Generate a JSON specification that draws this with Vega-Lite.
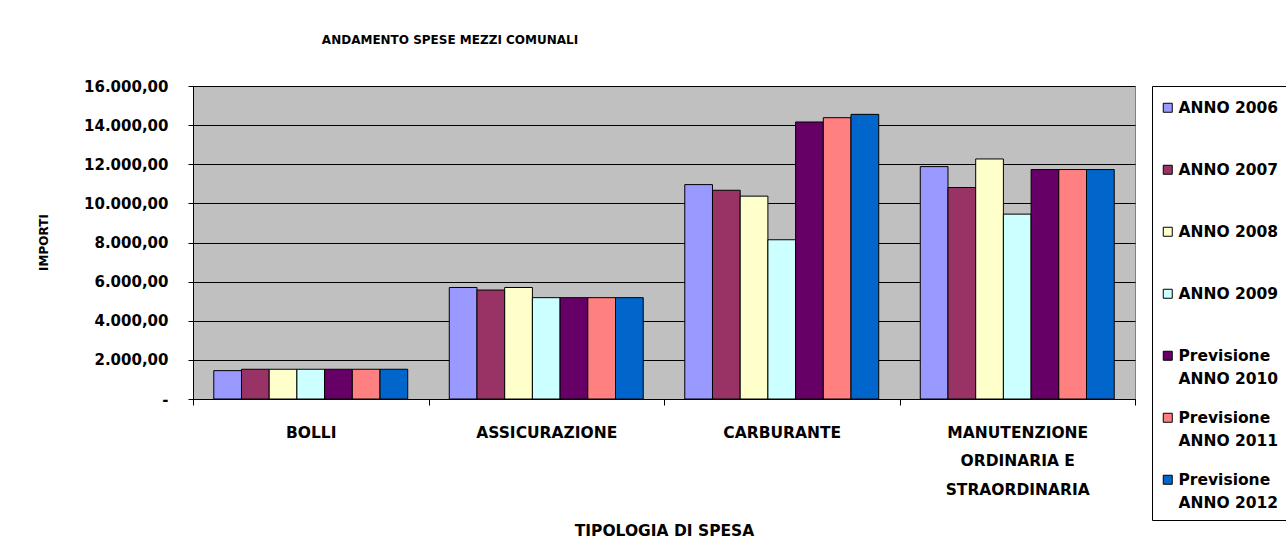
{
  "$schema": "https://vega.github.io/schema/vega-lite/v6.json",
  "width": 942,
  "height": 313,
  "autosize": "none",
  "padding": {"left": 193, "top": 86, "right": 151, "bottom": 154},
  "background": "white",
  "title": {
    "text": "ANDAMENTO SPESE MEZZI COMUNALI",
    "fontSize": 12,
    "font": "DejaVu Sans",
    "fontWeight": "bold",
    "color": "black",
    "anchor": "middle",
    "dx": -214,
    "offset": 32
  },
  "config": {
    "font": "DejaVu Sans",
    "view": {"fill": "#C0C0C0", "stroke": "#808080", "strokeWidth": 1}
  },
  "data": {
    "values": [
      {"tipologia": "BOLLI", "serie": "ANNO 2006", "importo": 1450},
      {"tipologia": "BOLLI", "serie": "ANNO 2007", "importo": 1520},
      {"tipologia": "BOLLI", "serie": "ANNO 2008", "importo": 1520},
      {"tipologia": "BOLLI", "serie": "ANNO 2009", "importo": 1520},
      {"tipologia": "BOLLI", "serie": "Previsione ANNO 2010", "importo": 1520},
      {"tipologia": "BOLLI", "serie": "Previsione ANNO 2011", "importo": 1520},
      {"tipologia": "BOLLI", "serie": "Previsione ANNO 2012", "importo": 1520},
      {"tipologia": "ASSICURAZIONE", "serie": "ANNO 2006", "importo": 5700},
      {"tipologia": "ASSICURAZIONE", "serie": "ANNO 2007", "importo": 5570},
      {"tipologia": "ASSICURAZIONE", "serie": "ANNO 2008", "importo": 5700},
      {"tipologia": "ASSICURAZIONE", "serie": "ANNO 2009", "importo": 5180},
      {"tipologia": "ASSICURAZIONE", "serie": "Previsione ANNO 2010", "importo": 5180},
      {"tipologia": "ASSICURAZIONE", "serie": "Previsione ANNO 2011", "importo": 5180},
      {"tipologia": "ASSICURAZIONE", "serie": "Previsione ANNO 2012", "importo": 5180},
      {"tipologia": "CARBURANTE", "serie": "ANNO 2006", "importo": 10960},
      {"tipologia": "CARBURANTE", "serie": "ANNO 2007", "importo": 10670},
      {"tipologia": "CARBURANTE", "serie": "ANNO 2008", "importo": 10370},
      {"tipologia": "CARBURANTE", "serie": "ANNO 2009", "importo": 8140},
      {"tipologia": "CARBURANTE", "serie": "Previsione ANNO 2010", "importo": 14160},
      {"tipologia": "CARBURANTE", "serie": "Previsione ANNO 2011", "importo": 14380},
      {"tipologia": "CARBURANTE", "serie": "Previsione ANNO 2012", "importo": 14550},
      {"tipologia": "MANUTENZIONE ORDINARIA E STRAORDINARIA", "serie": "ANNO 2006", "importo": 11880},
      {"tipologia": "MANUTENZIONE ORDINARIA E STRAORDINARIA", "serie": "ANNO 2007", "importo": 10810},
      {"tipologia": "MANUTENZIONE ORDINARIA E STRAORDINARIA", "serie": "ANNO 2008", "importo": 12270},
      {"tipologia": "MANUTENZIONE ORDINARIA E STRAORDINARIA", "serie": "ANNO 2009", "importo": 9450},
      {"tipologia": "MANUTENZIONE ORDINARIA E STRAORDINARIA", "serie": "Previsione ANNO 2010", "importo": 11730},
      {"tipologia": "MANUTENZIONE ORDINARIA E STRAORDINARIA", "serie": "Previsione ANNO 2011", "importo": 11730},
      {"tipologia": "MANUTENZIONE ORDINARIA E STRAORDINARIA", "serie": "Previsione ANNO 2012", "importo": 11730}
    ]
  },
  "mark": {"type": "bar", "stroke": "black", "strokeWidth": 1},
  "encoding": {
    "x": {
      "field": "tipologia",
      "type": "nominal",
      "sort": ["BOLLI", "ASSICURAZIONE", "CARBURANTE", "MANUTENZIONE ORDINARIA E STRAORDINARIA"],
      "scale": {"paddingInner": 0, "paddingOuter": 0},
      "axis": {
        "title": "TIPOLOGIA DI SPESA",
        "titleFontSize": 15.5,
        "titleFontWeight": "bold",
        "titleColor": "black",
        "titleY": 131,
        "titleBaseline": "middle",
        "labelAngle": 0,
        "labelFontSize": 15.5,
        "labelFontWeight": "bold",
        "labelColor": "black",
        "labelBaseline": "top",
        "labelLineHeight": 28.5,
        "labelPadding": 20,
        "labelExpr": "indexof(datum.label, 'MANUTENZIONE') == 0 ? ['MANUTENZIONE', 'ORDINARIA E', 'STRAORDINARIA'] : datum.label",
        "tickBand": "extent",
        "tickSize": 6,
        "tickColor": "black",
        "domainColor": "black",
        "grid": false
      }
    },
    "xOffset": {
      "field": "serie",
      "type": "nominal",
      "scale": {"paddingInner": 0, "paddingOuter": 0.75}
    },
    "y": {
      "field": "importo",
      "type": "quantitative",
      "scale": {"domain": [0, 16000], "nice": false},
      "axis": {
        "title": "IMPORTI",
        "titleFontSize": 12,
        "titleFontWeight": "bold",
        "titleColor": "black",
        "titleX": -150,
        "titleY": 156,
        "titleBaseline": "middle",
        "values": [0, 2000, 4000, 6000, 8000, 10000, 12000, 14000, 16000],
        "labelExpr": "datum.value == 0 ? '-' : replace(replace(replace(format(datum.value, ',.2f'), ',', '_'), '.', ','), '_', '.')",
        "labelFontSize": 15,
        "labelFontWeight": "bold",
        "labelColor": "black",
        "labelPadding": 20,
        "tickSize": 5,
        "tickColor": "black",
        "domainColor": "black",
        "gridColor": "black",
        "gridWidth": 1,
        "gridOpacity": 1
      }
    },
    "color": {
      "field": "serie",
      "type": "nominal",
      "scale": {
        "domain": ["ANNO 2006", "ANNO 2007", "ANNO 2008", "ANNO 2009", "Previsione ANNO 2010", "Previsione ANNO 2011", "Previsione ANNO 2012"],
        "range": ["#9999FF", "#993366", "#FFFFCC", "#CCFFFF", "#660066", "#FF8080", "#0066CC"]
      },
      "legend": {
        "title": " ",
        "titleFontSize": 1,
        "titlePadding": 5,
        "orient": "right",
        "offset": 17,
        "padding": 8,
        "strokeColor": "black",
        "fillColor": "white",
        "symbolType": "square",
        "symbolSize": 81,
        "symbolStrokeColor": "black",
        "symbolStrokeWidth": 1,
        "symbolOpacity": 1,
        "labelFontSize": 15.5,
        "labelFontWeight": "bold",
        "labelColor": "black",
        "labelOffset": 3,
        "labelBaseline": "top",
        "gridAlign": "all",
        "rowPadding": 22,
        "labelLimit": 200,
        "labelExpr": "indexof(datum.label, 'Previsione') == 0 ? ['Previsione', substring(datum.label, 11)] : datum.label",
        "encode": {
          "labels": {"update": {"lineHeight": {"value": 23}, "dy": {"value": -7}}}
        }
      }
    }
  }
}
